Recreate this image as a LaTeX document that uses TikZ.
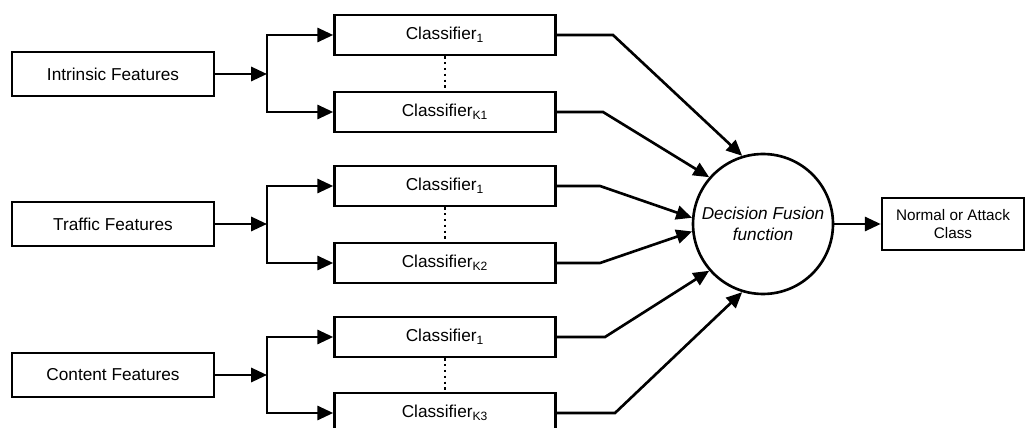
\documentclass[tikz,border=0pt]{standalone}
\usepackage{fontspec}
\setmainfont{Liberation Sans}
\usepackage{tikz}
\usetikzlibrary{arrows.meta}

\begin{document}
\begin{tikzpicture}[x=0.02cm,y=-0.02cm]
\useasboundingbox (0,0) rectangle (1026,428);

\begin{scope}[every node/.style={rectangle,draw,line width=1.5pt,font=\fontsize{9.8}{11}\selectfont}]
    \node[minimum width=4.04cm,minimum height=0.88cm] (feat1) at (113,74) {Intrinsic Features};
    \node[minimum width=4.04cm,minimum height=0.88cm] (feat2) at (113,224) {Traffic Features};
    \node[minimum width=4.04cm,minimum height=0.88cm] (feat3) at (113,375) {Content Features};

    \node[minimum width=4.42cm,minimum height=0.8cm] (clsA1) at (445,35) {Classifier\textsubscript{1}};
    \node[minimum width=4.42cm,minimum height=0.8cm] (clsK1) at (445,112) {Classifier\textsubscript{K1}};
    \node[minimum width=4.42cm,minimum height=0.8cm] (clsA2) at (445,186) {Classifier\textsubscript{1}};
    \node[minimum width=4.42cm,minimum height=0.8cm] (clsK2) at (445,263) {Classifier\textsubscript{K2}};
    \node[minimum width=4.42cm,minimum height=0.8cm] (clsA3) at (445,337) {Classifier\textsubscript{1}};
    \node[minimum width=4.42cm,minimum height=0.8cm] (clsK3) at (445,413) {Classifier\textsubscript{K3}};

    \node[circle,minimum size=2.8cm,inner sep=0pt,align=center,font=\itshape\fontsize{9.8}{12}\selectfont] (fusion) at (763,224) {Decision Fusion\\function};
    \node[minimum width=2.84cm,minimum height=1.04cm,align=center,font=\fontsize{8.7}{10.5}\selectfont] (out) at (953,224) {Normal or Attack\\Class};
    \end{scope}

% split points and bends
\coordinate (split1) at (267,74);
\coordinate (split2) at (267,224);
\coordinate (split3) at (267,375);
\coordinate (bendA1) at (613,35);
\coordinate (bendK1) at (603,112);
\coordinate (bendA2) at (600,186);
\coordinate (bendK2) at (600,263);
\coordinate (bendA3) at (605,337);
\coordinate (bendK3) at (615,413);

\begin{scope}[>={Triangle[length=9pt,width=8pt]},
              line width=1.5pt]
    \draw [->] (feat1) -- (split1);
    \draw [->] (feat2) -- (split2);
    \draw [->] (feat3) -- (split3);

    \draw [->] (split1) |- (clsA1);
    \draw [->] (split1) |- (clsK1);
    \draw [->] (split2) |- (clsA2);
    \draw [->] (split2) |- (clsK2);
    \draw [->] (split3) |- (clsA3);
    \draw [->] (split3) |- (clsK3);

    \draw [->] (clsA1.east) -- (bendA1) -- (fusion.107);
    \draw [->] (clsK1.east) -- (bendK1) -- (fusion.139);
    \draw [->] (clsA2.east) -- (bendA2) -- (fusion.175);
    \draw [->] (clsK2.east) -- (bendK2) -- (fusion.186);
    \draw [->] (clsA3.east) -- (bendA3) -- (fusion.221);
    \draw [->] (clsK3.east) -- (bendK3) -- (fusion.253);

    \draw [->] (fusion) -- (out);
    \end{scope}

\begin{scope}[line width=1.3pt,dotted]
    \draw (clsA1) -- (clsK1);
    \draw (clsA2) -- (clsK2);
    \draw (clsA3) -- (clsK3);
    \end{scope}

\end{tikzpicture}
\end{document}
